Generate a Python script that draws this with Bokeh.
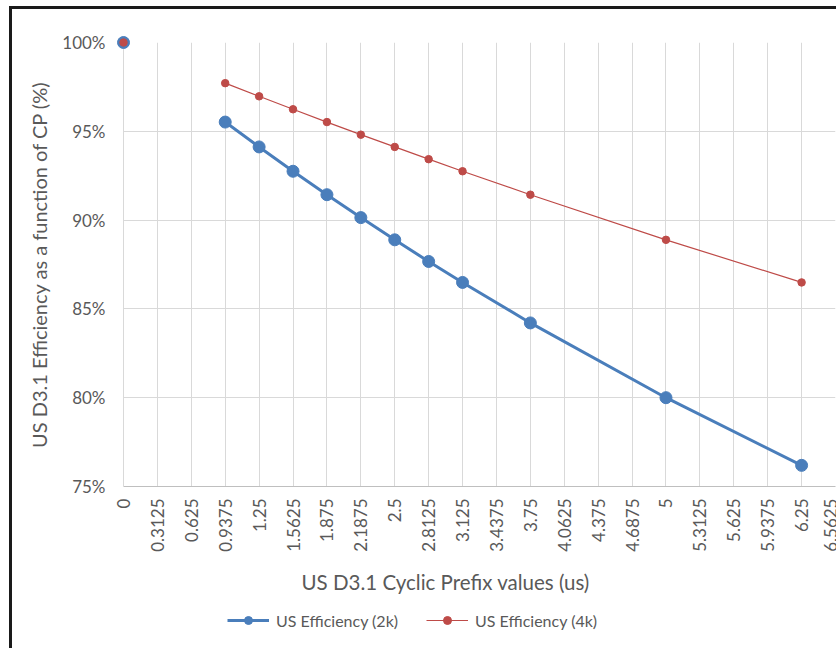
import math
from bokeh.plotting import figure
from bokeh.layouts import column
from bokeh.models import (FixedTicker, PrintfTickFormatter, Legend, LegendItem,
                          Range1d, ColumnDataSource, Title)
from bokeh.embed import file_html
from bokeh.resources import INLINE

nan = float("nan")

x_tick_labels = ["0", "0.3125", "0.625", "0.9375", "1.25", "1.5625", "1.875",
                 "2.1875", "2.5", "2.8125", "3.125", "3.4375", "3.75", "4.0625",
                 "4.375", "4.6875", "5", "5.3125", "5.625", "5.9375", "6.25", "6.5625"]
y_ticks = [75, 80, 85, 90, 95, 100]

cp_us = [0, 0.3125, 0.625, 0.9375, 1.25, 1.5625, 1.875, 2.1875, 2.5, 2.8125,
         3.125, 3.75, 5, 6.25]
eff_2k = [100, nan, nan, 95.52, 94.12, 92.75, 91.43, 90.14, 88.89, 87.67,
          86.49, 84.21, 80.00, 76.19]
eff_4k = [100, nan, nan, 97.71, 96.97, 96.24, 95.52, 94.81, 94.12, 93.43,
          92.75, 91.43, 88.89, 86.49]

series_names = ["US Efficiency (2k)", "US Efficiency (4k)"]
x_title = "US D3.1 Cyclic Prefix values (us)"
y_title = "US D3.1 Efficiency as a function of CP (%)"

FONT = "Lato"
TXT = "#595959"
BLUE = "#4a7ebb"
RED = "#be4b48"

src = ColumnDataSource(dict(x=cp_us, y2=eff_2k, y4=eff_4k))

x_ticks = [float(t) for t in x_tick_labels]

p = figure(width=824, height=599, output_backend="svg", toolbar_location=None,
           x_range=Range1d(x_ticks[0], x_ticks[-1]),
           y_range=Range1d(y_ticks[0], y_ticks[-1]),
           min_border_left=111, min_border_right=1, min_border_top=33,
           min_border_bottom=122)
p.outline_line_color = None
p.background_fill_color = "white"
p.border_fill_color = "white"

# axes
p.xaxis.ticker = FixedTicker(ticks=x_ticks)
p.xaxis.major_label_overrides = {t: l for t, l in zip(x_ticks, x_tick_labels)}
p.xaxis.major_label_orientation = math.pi / 2
p.yaxis.ticker = FixedTicker(ticks=y_ticks)
p.yaxis.formatter = PrintfTickFormatter(format="%d%%")
for ax in (p.xaxis[0], p.yaxis[0]):
    ax.major_label_text_font = FONT
    ax.major_label_text_font_size = "17px"
    ax.major_label_text_color = TXT
    ax.axis_label_text_font = FONT
    ax.axis_label_text_font_size = "20px"
    ax.axis_label_text_font_style = "normal"
    ax.axis_label_text_color = TXT
    ax.major_tick_line_color = None
    ax.minor_tick_line_color = None
p.xaxis.axis_line_color = "#bfbfbf"
p.yaxis.axis_line_color = "#d9d9d9"
p.xaxis.major_label_standoff = 6
p.yaxis.major_label_standoff = 12
p.yaxis.axis_label = y_title
p.yaxis.axis_label_standoff = 8

# x-axis title as a below-panel title so it can sit left of the frame centre
xt = Title(text=x_title, align="left", offset=178, standoff=26,
           text_font=FONT, text_font_size="20.5px", text_font_style="normal",
           text_color=TXT)
p.add_layout(xt, "below")

p.xgrid.ticker = FixedTicker(ticks=x_ticks)
p.ygrid.ticker = FixedTicker(ticks=y_ticks)
p.xgrid.grid_line_color = "#d9d9d9"
p.ygrid.grid_line_color = "#d9d9d9"

# series
line_2k = dict(line_color=BLUE, line_width=3)
mark_2k = dict(size=12, fill_color=BLUE, line_color=BLUE)
line_4k = dict(line_color=RED, line_width=1.2)
mark_4k = dict(size=7.5, fill_color=RED, line_color=RED)

p.line("x", "y2", source=src, **line_2k)
p.scatter("x", "y2", source=src, level="overlay", **mark_2k)
p.line("x", "y4", source=src, **line_4k)
p.scatter("x", "y4", source=src, level="overlay", **mark_4k)

# legend strip below the chart (renderers here only provide legend swatches)
lg = figure(width=824, height=40, output_backend="svg", toolbar_location=None,
            x_range=Range1d(0, 1), y_range=Range1d(0, 1),
            x_axis_location=None, y_axis_location=None, min_border=0)
lg.outline_line_color = None
lg.xgrid.visible = False
lg.ygrid.visible = False
e = dict(x=[nan], y=[nan])
a1 = lg.line(**e, **line_2k)
b1 = lg.scatter(**e, **mark_2k)
a2 = lg.line(**e, **line_4k)
b2 = lg.scatter(**e, **mark_4k)

legend = Legend(items=[LegendItem(label=series_names[0], renderers=[a1, b1]),
                       LegendItem(label=series_names[1], renderers=[a2, b2])],
                orientation="horizontal", location=(104, 18))
legend.label_text_font = FONT
legend.label_text_font_size = "16px"
legend.label_text_color = TXT
legend.glyph_width = 42
legend.glyph_height = 20
legend.label_height = 20
legend.label_standoff = 7
legend.spacing = 28
legend.padding = 0
legend.margin = 0
legend.border_line_color = None
legend.background_fill_alpha = 0
lg.add_layout(legend, "center")

layout = column(p, lg, spacing=0, margin=(6, 0, 0, 9),
                styles={"border-left": "3px solid #1a1a1a",
                        "border-top": "3px solid #1a1a1a"})

open("out.html", "w").write(file_html(layout, INLINE))
